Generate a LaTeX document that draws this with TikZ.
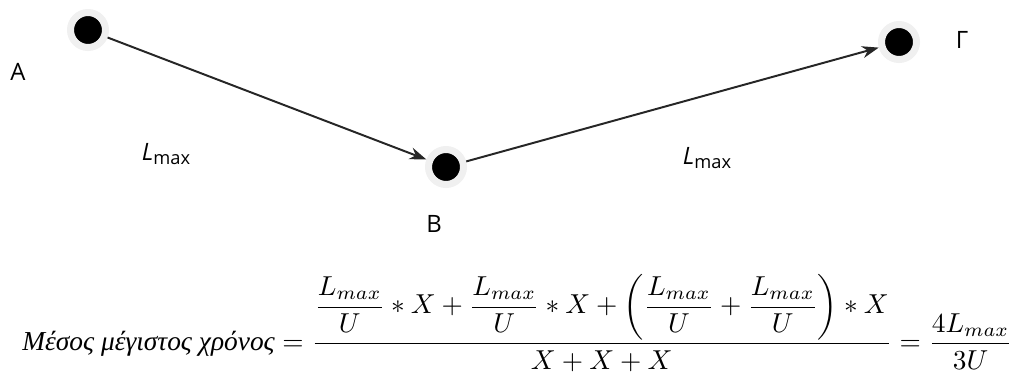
\documentclass[tikz,border=0pt]{standalone}
\usepackage{amsmath}
\usepackage{graphicx}
\usepackage[no-math]{fontspec}
\newfontfamily\labelfont{Open Sans}
\newfontfamily\greekfont{Liberation Serif}
\usetikzlibrary{positioning,arrows.meta}
\tikzset{
  station/.style={circle,fill=black,draw=gray!12,line width=0.175cm,
                  minimum size=0.875cm,inner sep=0pt},
  stlabel/.style={font=\labelfont\fontsize{17}{20}\selectfont},
  route/.style={-{Stealth[length=0.42cm,width=0.3cm]},line width=1.4pt,black!85},
}
\newcommand{\lmaxlabel}{\textit{L}\raisebox{-0.25ex}{\fontsize{13}{15}\selectfont max}}

\begin{document}
\begin{tikzpicture}[x=0.025cm,y=-0.025cm]
  \useasboundingbox (0,0) rectangle (1016,376);
  % stations
  \node[station] (A) at (88,30) {};
  \node[station] (B) at (446,167) {};
  \node[station] (G) at (899,42) {};
  \node[stlabel] (labA) at (18,72) {A};
  \node[stlabel] (labB) at (434,224) {B};
  \node[stlabel] (labG) at (962,40) {Γ};
  \node[stlabel] (len1) at (166,154) {\lmaxlabel};
  \node[stlabel] (len2) at (707,158) {\lmaxlabel};
  \draw[route] (A) -- (B);
  \draw[route] (B) -- (G);
  % formula
  \node[anchor=west,inner sep=0pt] (formula) at (22,323) {\resizebox{24.75cm}{!}{%
    $\text{\greekfont\itshape Μέσος μέγιστος χρόνος}
     =\dfrac{\dfrac{L_{max}}{U}\ast X+\dfrac{L_{max}}{U}\ast X
       +\left(\dfrac{L_{max}}{U}+\dfrac{L_{max}}{U}\right)\ast X}{X+X+X}
     =\dfrac{4L_{max}}{3U}$}};
\end{tikzpicture}
\end{document}
